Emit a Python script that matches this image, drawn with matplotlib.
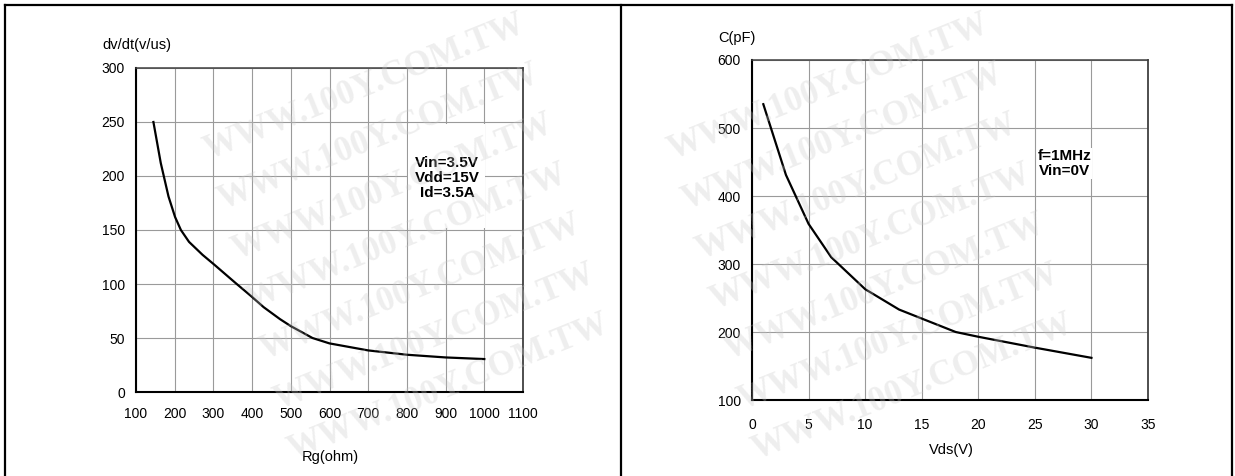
import numpy as np
import matplotlib.pyplot as plt
from matplotlib.patches import Rectangle
from matplotlib.lines import Line2D

plt.rcParams['font.family'] = ['Liberation Sans', 'DejaVu Sans']

# dv/dt versus gate resistance
rg = [145, 164, 184, 201, 216, 237, 272, 302, 357, 400, 430, 472, 500, 556, 600, 700, 800, 900, 1000]
dvdt = [250, 212, 181, 162, 150, 139, 127, 118, 101, 88, 78.5, 67.5, 61, 50, 45, 38.5, 34.5, 32, 30.5]

# capacitance versus Vds
vds = [1, 3, 5, 7, 10, 13, 18, 20, 25, 30]
cap = [535, 431, 359, 310, 263, 233, 200, 193, 177, 162]

rg_ticks = [100, 200, 300, 400, 500, 600, 700, 800, 900, 1000, 1100]
dvdt_ticks = [0, 50, 100, 150, 200, 250, 300]
vds_ticks = [0, 5, 10, 15, 20, 25, 30, 35]
cap_ticks = [100, 200, 300, 400, 500, 600]

W, H = 1235, 476
fig = plt.figure(figsize=(W / 100, H / 100), dpi=100)


def px(x, y):
    return x / W, 1 - y / H


def setup(ax, xt, yt, xpad, ypad):
    ax.set_xlim(xt[0], xt[-1])
    ax.set_ylim(yt[0], yt[-1])
    ax.set_xticks(xt)
    ax.set_yticks(yt)
    ax.grid(True, color='#9a9a9a', lw=0.8)
    ax.set_axisbelow(True)
    ax.tick_params(length=0, labelsize=10)
    ax.tick_params(axis='x', pad=xpad)
    ax.tick_params(axis='y', pad=ypad)
    ax.spines['left'].set_linewidth(1.5)
    ax.spines['bottom'].set_linewidth(1.5)
    ax.spines['top'].set_color('#404040')
    ax.spines['right'].set_color('#404040')
    ax.spines['top'].set_linewidth(1.1)
    ax.spines['right'].set_linewidth(1.3)


ax1 = fig.add_axes([136 / W, 84 / H, 387 / W, 324 / H])
setup(ax1, rg_ticks, dvdt_ticks, 11, 8)
ax1.add_patch(Rectangle((803, 152), 200, 96, facecolor='white', edgecolor='none', zorder=1))
ax1.plot(rg, dvdt, color='black', lw=1.6, zorder=3)
ax1.text(904, 198, "Vin=3.5V\nVdd=15V\nId=3.5A", ha='center', va='center',
         multialignment='center', fontsize=11, fontweight='bold', linespacing=1.1, zorder=4)

ax2 = fig.add_axes([752 / W, 76 / H, 396 / W, 340 / H])
setup(ax2, vds_ticks, cap_ticks, 13, 8)
ax2.plot(vds, cap, color='black', lw=1.6, zorder=3)
ax2.text(27.6, 448, "f=1MHz\nVin=0V", ha='center', va='center',
         multialignment='center', fontsize=11, fontweight='bold', linespacing=1.08, zorder=4,
         bbox=dict(facecolor='white', edgecolor='none', pad=0.5))

fig.text(*px(102, 45), "dv/dt(v/us)", ha='left', va='center', fontsize=10.5)
fig.text(*px(330, 457), "Rg(ohm)", ha='center', va='center', fontsize=10.5)
fig.text(*px(718, 38), "C(pF)", ha='left', va='center', fontsize=10.5)
fig.text(*px(951, 450), "Vds(V)", ha='center', va='center', fontsize=10.5)

# outer frame
for xs, ys in [([5, 1232], [5, 5]), ([5, 5], [5, 476]), ([621, 621], [5, 476]), ([1232, 1232], [5, 476])]:
    fig.add_artist(Line2D([x / W for x in xs], [1 - y / H for y in ys], color='black', lw=1.6))

# faint watermark
for cx0 in [351, 815]:
    for k in range(1, 8):
        fig.text(*px(cx0 + 14 * k, 38 + 50 * k), "WWW.100Y.COM.TW", ha='center', va='center',
                 rotation=22, fontsize=25, fontweight='bold', family='Liberation Serif',
                 color='#c8c8c8', alpha=0.3, zorder=10)

fig.savefig('out.png', dpi=100)
